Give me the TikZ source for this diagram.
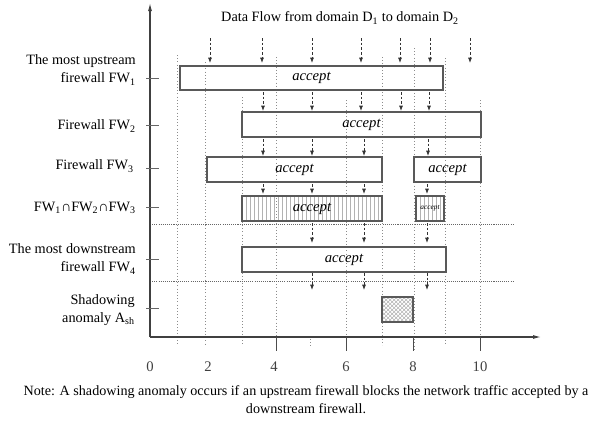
\documentclass[tikz,border=0pt]{standalone}
\usepackage{fontspec}
\setmainfont{Liberation Serif}
\usetikzlibrary{arrows.meta,patterns}
\begin{document}
\begin{tikzpicture}[x=0.75pt,y=-0.75pt,
  lbl/.style={font=\fontsize{10.7}{13.5}\selectfont, align=right, anchor=east, inner sep=0pt},
  box/.style={draw=black!65, line width=0.9pt},
  acc/.style={font=\fontsize{11}{13}\selectfont\itshape, inner sep=0pt},
  vgrid/.style={draw=black!45, line width=0.5pt, dash pattern=on 0.6pt off 1.8pt},
  hsep/.style={draw=black!60, line width=0.6pt, dash pattern=on 0.8pt off 0.8pt},
  flow/.style={draw=black!80, line width=0.6pt, dash pattern=on 2pt off 1.5pt, -{Latex[length=4pt,width=3pt]}},
  axisline/.style={draw=black!75, line width=0.8pt, -{Latex[length=6pt,width=3pt]}},
  rowtick/.style={draw=black!60, line width=0.6pt},
  hatch/.style={draw=black!30, line width=0.35pt},
]
\useasboundingbox (0,0) rectangle (592,422);

% vertical dotted grid
\foreach \x/\a/\b in {177/55/345, 205/62/345, 242/97/345, 276/57/350, 346/100/350, 382/57/345, 414/48/350, 445/58/345, 480/100/350}
  \draw[vgrid] (\x,\a) -- (\x,\b);
\draw[vgrid] (310,339) -- (310,346);

% horizontal separators
\draw[hsep] (150,224) -- (514,224);
\draw[hsep] (150,281) -- (514,281);

% hatching of intersection boxes
\foreach \x in {246,250,...,378} \draw[hatch] (\x,196) -- (\x,221);
\foreach \x in {420,424,...,440} \draw[hatch] (\x,196) -- (\x,221);
\fill[pattern=crosshatch, pattern color=black!30] (382,297) rectangle (413,322);

% boxes
\draw[box] (180,66) rectangle (443,90);
\node[acc] (a1) at (311.5,78) {accept};
\draw[box] (242,112) rectangle (481,137);
\node[acc] (a2) at (361.5,124.5) {accept};
\draw[box] (207,157) rectangle (382,182);
\node[acc] (a3) at (294.5,169.5) {accept};
\draw[box] (414,157) rectangle (481,182);
\node[acc] (a3b) at (447.5,169.5) {accept};
\draw[box] (242,196) rectangle (382,221);
\node[acc] (a4) at (312,208.5) {accept};
\draw[box] (416,196) rectangle (444,221);
\node[acc, font=\fontsize{5.5}{6}\selectfont\itshape] (a4b) at (430,208.5) {accept};
\draw[box] (242,247) rectangle (446,272);
\node[acc] (a5) at (344,259.5) {accept};
\draw[box] (382,297) rectangle (413,322);

% flow arrows
\foreach \x in {210,262,312,361,400,430,470} \draw[flow] (\x,38) -- (\x,63);
\foreach \x in {263,312,361,401,429} \draw[flow] (\x,92) -- (\x,111);
\foreach \x in {263,312,364,428} \draw[flow] (\x,139) -- (\x,156);
\foreach \x in {263,312,364,427} \draw[flow] (\x,184) -- (\x,194);
\foreach \x in {312,364,427} \draw[flow] (\x,223) -- (\x,243);
\foreach \x in {312,364,427} \draw[flow] (\x,273) -- (\x,290);

% axes
\draw[axisline] (150,337) -- (150,3);
\draw[axisline] (150,337) -- (541,337);
\foreach \x in {276,346,413,480} \draw[black!70, line width=0.6pt] (\x,337) -- (\x,351);
\foreach \y in {78,125,168,207,259,308} \draw[rowtick] (146,\y) -- (159,\y);

% tick labels
\foreach \x/\t in {150/0,208/2,274/4,346/6,413/8,480/10}
  \node[font=\fontsize{11}{13}\selectfont, text=black!75, inner sep=0pt] at (\x,367) {\t};

% title
\node[font=\fontsize{10.7}{13}\selectfont, inner sep=0pt] (title) at (340,18) {Data Flow from domain D\textsubscript{1} to domain D\textsubscript{2}};

% row labels
\node[lbl] (l1) at (136,70) {The most upstream\\ firewall FW\textsubscript{1}};
\node[lbl] (l2) at (136,126) {Firewall FW\textsubscript{2}};
\node[lbl] (l3) at (134,166) {Firewall FW\textsubscript{3}};
\node[lbl] (l4) at (136,208) {FW\textsubscript{1}∩FW\textsubscript{2}∩FW\textsubscript{3}};
\node[lbl] (l5) at (136,259) {The most downstream\\ firewall FW\textsubscript{4}};
\node[lbl] (l6) at (135,310) {Shadowing\\ anomaly A\textsubscript{sh}};

% note
\node[font=\fontsize{10.6}{13.5}\selectfont, align=center, inner sep=0pt] (note) at (306,400) {Note: A shadowing anomaly occurs if an upstream firewall blocks the network traffic accepted by a\\ downstream firewall.};
\end{tikzpicture}
\end{document}
